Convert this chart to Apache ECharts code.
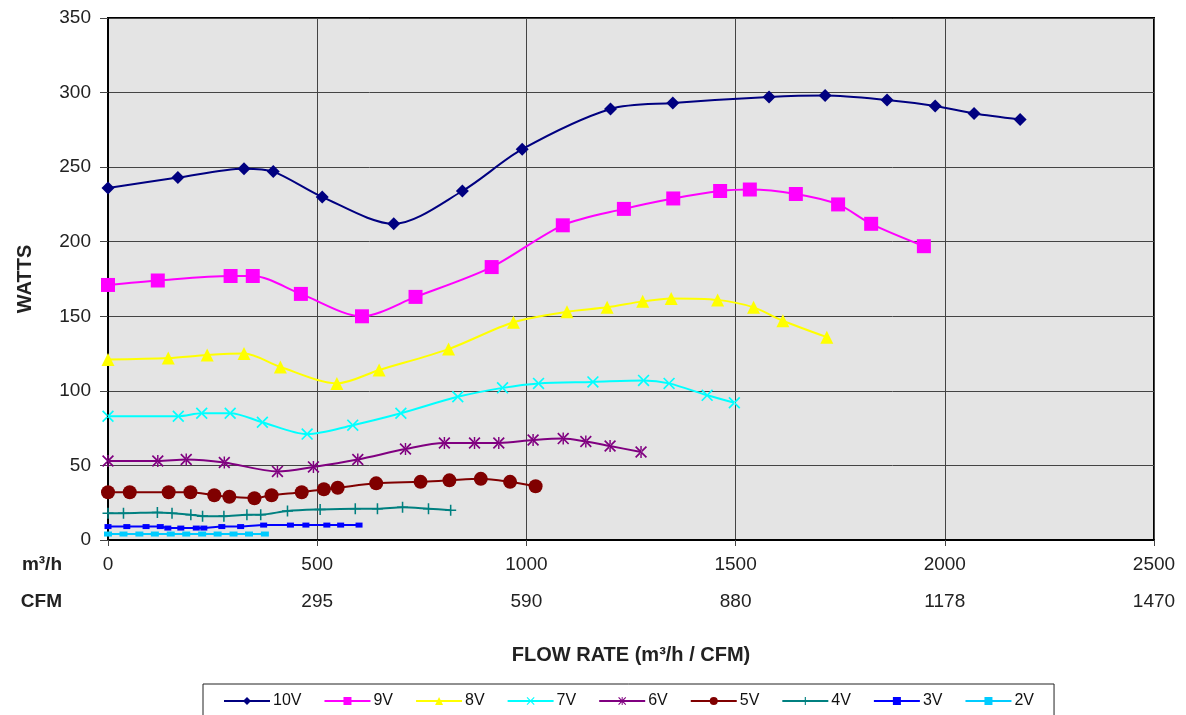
<!DOCTYPE html>
<html>
<head>
<meta charset="utf-8">
<script src="https://cdn.jsdelivr.net/npm/echarts@6/dist/echarts.min.js"></script>
<style>
  html, body { margin: 0; padding: 0; background: #fff; }
  #chart { width: 1186px; height: 715px; }
</style>
</head>
<body>
<div id="chart"></div>
<script>
// flow rate (m3/h) and power (W)
const flow10V = [0, 167, 325, 395, 512, 683, 847, 990, 1201, 1350, 1580, 1714, 1862, 1977, 2070, 2180];
const watts10V = [236, 243, 249, 247, 230, 212, 234, 262, 289, 293, 297, 298, 295, 291, 286, 282];
const flow9V = [0, 119, 293, 346, 461, 607, 735, 917, 1087, 1233, 1351, 1463, 1534, 1644, 1745, 1824, 1950];
const watts9V = [171, 174, 177, 177, 165, 150, 163, 183, 211, 222, 229, 234, 235, 232, 225, 212, 197];
const flow8V = [0, 144, 237, 325, 412, 547, 648, 814, 969, 1097, 1193, 1278, 1346, 1457, 1543, 1613, 1718];
const watts8V = [121, 122, 124, 125, 116, 105, 114, 128, 146, 153, 156, 160, 162, 161, 156, 147, 136];
const flow7V = [0, 168, 224, 292, 369, 476, 585, 700, 836, 943, 1029, 1159, 1280, 1341, 1432, 1497];
const watts7V = [83, 83, 85, 85, 79, 71, 77, 85, 96, 102, 105, 106, 107, 105, 97, 92];
const flow6V = [0, 119, 187, 278, 405, 491, 597, 711, 804, 876, 934, 1016, 1088, 1142, 1200, 1274];
const watts6V = [53, 53, 54, 52, 46, 49, 54, 61, 65, 65, 65, 67, 68, 66, 63, 59];
const flow5V = [0, 52, 145, 197, 254, 290, 350, 391, 463, 516, 549, 641, 747, 816, 891, 961, 1022];
const watts5V = [32, 32, 32, 32, 30, 29, 28, 30, 32, 34, 35, 38, 39, 40, 41, 39, 36];
const flow4V = [0, 37, 118, 153, 198, 226, 277, 332, 365, 429, 507, 591, 644, 704, 766, 819];
const watts4V = [18, 18, 18.5, 18, 17, 16, 16, 17, 17, 19.5, 20.5, 21, 21, 22, 21, 20];
const flow3V = [0, 45, 91, 125, 143, 174, 211, 229, 272, 317, 372, 436, 473, 523, 556, 600];
const watts3V = [9, 9, 9, 9, 8, 8, 8, 8, 9, 9, 10, 10, 10, 10, 10, 10];
const flow2V = [0, 37, 75, 112, 150, 187, 225, 262, 300, 337, 375];
const watts2V = [4, 4, 4, 4, 4, 4, 4, 4, 4, 4, 4];

// CFM labels under the m3/h ticks (0, 500, ... 2500)
const cfmLabels = ['', '295', '590', '880', '1178', '1470'];

const FONT = '"Liberation Sans", Arial, sans-serif';

// marker shapes Excel uses that echarts does not have
const xMark = 'path://M0,1 L1,0 L10,9 L9,10 Z M10,1 L9,0 L0,9 L1,10 Z';
const starMark = 'path://M0,1 L1,0 L10,9 L9,10 Z M10,1 L9,0 L0,9 L1,10 Z M4.4,0 L5.6,0 L5.6,10 L4.4,10 Z';
const plusMark = 'path://M4.3,0 L5.7,0 L5.7,10 L4.3,10 Z M0,4.3 L10,4.3 L10,5.7 L0,5.7 Z';

function pairs(xs, ys) {
  return xs.map((x, i) => [x, ys[i]]);
}

function makeSeries(name, xs, ys, color, symbol, size) {
  return {
    name: name,
    type: 'line',
    data: pairs(xs, ys),
    smooth: 0.3,
    symbol: symbol,
    symbolSize: size,
    showAllSymbol: true,
    lineStyle: { color: color, width: 2 },
    itemStyle: { color: color },
    emphasis: { disabled: true },
  };
}

const chart = echarts.init(document.getElementById('chart'));

const option = {
  backgroundColor: '#fff',
  animation: false,
  textStyle: { fontFamily: FONT },
  grid: {
    left: 108,
    right: 32,
    top: 18,
    bottom: 175,
    show: true,
    backgroundColor: '#e4e4e4',
    borderColor: '#000',
    borderWidth: 2,
  },
  legend: {
    left: 203,
    top: 684,
    width: 853,
    padding: [9, 20, 12, 20],
    borderColor: '#222',
    borderWidth: 1,
    backgroundColor: '#fff',
    itemWidth: 46,
    itemHeight: 10,
    itemGap: 22,
    textStyle: { fontFamily: FONT, fontSize: 16, color: '#111', padding: [0, 0, 0, -2] },
  },
  xAxis: [
    {
      type: 'value',
      min: 0,
      max: 2500,
      interval: 500,
      position: 'bottom',
      name: 'FLOW RATE (m³/h / CFM)',
      nameLocation: 'middle',
      nameGap: 105,
      nameTextStyle: { fontFamily: FONT, fontSize: 20, fontWeight: 'bold', color: '#222' },
      axisLine: { show: true, lineStyle: { color: '#000', width: 2 } },
      axisTick: { show: true, length: 6, lineStyle: { color: '#444' } },
      axisLabel: { fontFamily: FONT, fontSize: 19, color: '#222', margin: 15, formatter: (v) => String(v) },
      splitLine: { show: true, lineStyle: { color: '#444', width: 1 } },
    },
    {
      type: 'value',
      min: 0,
      max: 2500,
      interval: 500,
      position: 'bottom',
      offset: 37,
      axisLine: { show: false },
      axisTick: { show: false },
      splitLine: { show: false },
      axisLabel: {
        fontFamily: FONT,
        fontSize: 19,
        color: '#222',
        margin: 15,
        formatter: (v) => cfmLabels[Math.round(v / 500)] || '',
      },
    },
  ],
  yAxis: {
    type: 'value',
    min: 0,
    max: 350,
    interval: 50,
    name: 'WATTS',
    nameLocation: 'middle',
    nameGap: 73,
    nameTextStyle: { fontFamily: FONT, fontSize: 20, fontWeight: 'bold', color: '#222' },
    axisLine: { show: true, lineStyle: { color: '#000', width: 2 } },
    axisTick: { show: true, length: 8, lineStyle: { color: '#444' } },
    axisLabel: { fontFamily: FONT, fontSize: 19, color: '#222', margin: 17 },
    splitLine: { show: true, lineStyle: { color: '#444', width: 1 } },
  },
  graphic: [
    {
      type: 'text',
      right: 1186 - 62,
      top: 555,
      style: { text: 'm³/h', font: 'bold 19px ' + FONT, fill: '#222' },
    },
    {
      type: 'text',
      right: 1186 - 62,
      top: 592,
      style: { text: 'CFM', font: 'bold 19px ' + FONT, fill: '#222' },
    },
  ],
  series: [
    makeSeries('10V', flow10V, watts10V, '#000080', 'diamond', 13),
    makeSeries('9V', flow9V, watts9V, '#ff00ff', 'rect', 14),
    makeSeries('8V', flow8V, watts8V, '#ffff00', 'triangle', 13),
    makeSeries('7V', flow7V, watts7V, '#00ffff', xMark, 12),
    makeSeries('6V', flow6V, watts6V, '#800080', starMark, 12),
    makeSeries('5V', flow5V, watts5V, '#800000', 'circle', 14),
    makeSeries('4V', flow4V, watts4V, '#008080', plusMark, 11),
    makeSeries('3V', flow3V, watts3V, '#0000ff', 'rect', [7, 5]),
    makeSeries('2V', flow2V, watts2V, '#00ccff', 'rect', [8, 5]),
  ],
};

chart.setOption(option);
</script>
</body>
</html>
